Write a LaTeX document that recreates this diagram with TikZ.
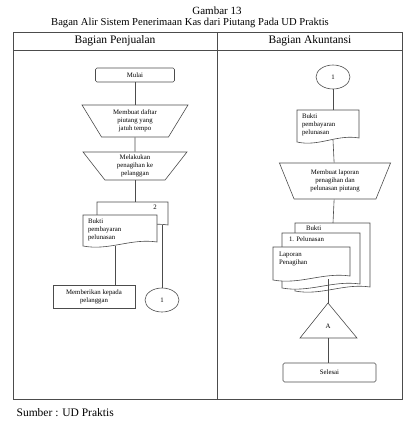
\documentclass[tikz,border=0pt]{standalone}
\usepackage{fontspec}
\setmainfont{Liberation Serif}
\usetikzlibrary{shapes.geometric}

\tikzset{every picture/.style={line width=0.6pt}}
\tikzset{
  flow/.style={draw=black!70},
  isi/.style={font=\fontsize{6.8}{8}\selectfont, align=center, inner sep=0.75pt},
  terminal/.style={flow, rounded corners=1.5pt, isi},
  manual/.style={flow, isi, shape=trapezium, shape border rotate=180, trapezium stretches=true},
  konektor/.style={flow, isi, shape=ellipse, minimum width=34, minimum height=24, inner sep=0pt},
}

% dokumen: x kiri, y atas, lebar, tinggi
\newcommand{\dokumen}[4]{%
  \draw [flow, fill=white] (#1,#2) -- ++(#3,0) -- ++(0,{#4-4}) .. controls +({-0.35*#3},-4) and +({0.35*#3},5) .. (#1,{#2+#4}) -- cycle ;}

\begin{document}
\begin{tikzpicture}[x=1pt,y=1pt,yscale=-1,xscale=1]
        \useasboundingbox (0,0) rectangle (404,421);

        % Text Node
        \draw (217,11) node [font=\fontsize{11}{12}\selectfont] (judul1) {Gambar 13};
        % Text Node
        \draw (190,22.5) node [font=\fontsize{10.6}{12}\selectfont] (judul2) {Bagan Alir Sistem Penerimaan Kas dari Piutang Pada UD Praktis};

        %Shape: Rectangle (tabel)
        \draw [flow] (13,32) rectangle (402,399) ;
        %Straight Lines
        \draw [flow] (13,50) -- (402,50) ;
        %Straight Lines
        \draw [flow] (217,32) -- (217,399) ;
        % Text Node
        \draw (115,41) node [font=\fontsize{11.5}{12}\selectfont] (kolom1) {Bagian Penjualan};
        % Text Node
        \draw (310,41) node [font=\fontsize{11.5}{12}\selectfont] (kolom2) {Bagian Akuntansi};

        %%% Bagian Penjualan
        % Text Node
        \draw (135,75) node [terminal, minimum width=79, minimum height=14] (mulai) {Mulai};
        % Text Node
        \draw (135,121) node [manual, trapezium angle=61, minimum width=106, minimum height=32] (daftar) {Membuat daftar\\piutang yang\\jatuh tempo};
        % Text Node
        \draw (135,166) node [manual, trapezium angle=60, minimum width=104, minimum height=28] (tagih) {Melakukan\\penagihan ke\\pelanggan};
        %Shape: Dokumen
        \dokumen{97}{202}{71}{27}
        \coordinate (dokL2) at (135,202);
        \coordinate (dokL2b) at (162,225);
        % Text Node
        \draw (155,207) node [isi] (noL2) {2};
        %Shape: Dokumen
        \dokumen{83}{215}{74}{31}
        \coordinate (dokL1b) at (115,246);
        % Text Node
        \draw (87,218) node [isi, anchor=north west, align=left] (buktiL) {Bukti\\pembayaran\\pelunasan};
        % Text Node
        \draw (94,296.5) node [flow, isi, minimum width=82, minimum height=23] (beri) {Memberikan kepada\\pelanggan};
        % Text Node
        \draw (162,300) node [konektor] (konL) {1};

        %Straight Lines
        \draw [flow] (mulai) -- (daftar) ;
        \draw [flow] (daftar) -- (tagih) ;
        \draw [flow] (tagih) -- (dokL2) ;
        \draw [flow] (dokL1b) -- (dokL1b |- beri.north) ;
        \draw [flow] (dokL2b) -- (konL) ;

        %%% Bagian Akuntansi
        % Text Node
        \draw (333,77) node [konektor] (konR) {1};
        %Shape: Dokumen
        \dokumen{297}{110}{62}{32}
        \coordinate (dokR) at (333,110);
        \coordinate (dokRb) at (333,140);
        % Text Node
        \draw (301,113) node [isi, anchor=north west, align=left] (buktiR) {Bukti\\pembayaran\\pelunasan};
        % Text Node
        \draw (335,181) node [manual, trapezium angle=69, minimum width=112, minimum height=36] (laporan) {Membuat laporan\\penagihan dan\\pelunasan piutang};
        %Shape: Dokumen (tumpukan)
        \dokumen{295}{223}{75}{68}
        \dokumen{282}{233}{78}{55}
        \dokumen{273}{247}{77}{33}
        \coordinate (dokR3) at (333,223);
        \coordinate (dokR1b) at (328,279);
        % Text Node
        \draw (305,225) node [isi, anchor=north west] (lapR3) {Bukti};
        % Text Node
        \draw (288,235.5) node [isi, anchor=north west] (lapR2) {1. Pelunasan};
        % Text Node
        \draw (278,251) node [isi, anchor=north west, align=left] (lapR1) {Laporan\\Penagihan};
        %Shape: Triangle (arsip)
        \draw [flow] (328,303) -- (357,338) -- (300,338) -- cycle ;
        \coordinate (arsipA) at (328,303);
        \coordinate (arsipB) at (328,338);
        % Text Node
        \draw (328,326) node [isi] (arsip) {A};
        % Text Node
        \draw (329.5,372.5) node [terminal, minimum width=93, minimum height=19] (selesai) {Selesai};

        %Straight Lines
        \draw [flow] (konR) -- (dokR) ;
        \draw [flow] (dokRb) -- (laporan) ;
        \draw [flow] (laporan) -- (dokR3) ;
        \draw [flow] (dokR1b) -- (arsipA) ;
        \draw [flow] (arsipB) -- (arsipB |- selesai.north) ;

        % Text Node
        \draw (13,413) node [anchor=west, font=\fontsize{11.5}{12}\selectfont] (sumber) {Sumber : UD Praktis};
\end{tikzpicture}
\end{document}
